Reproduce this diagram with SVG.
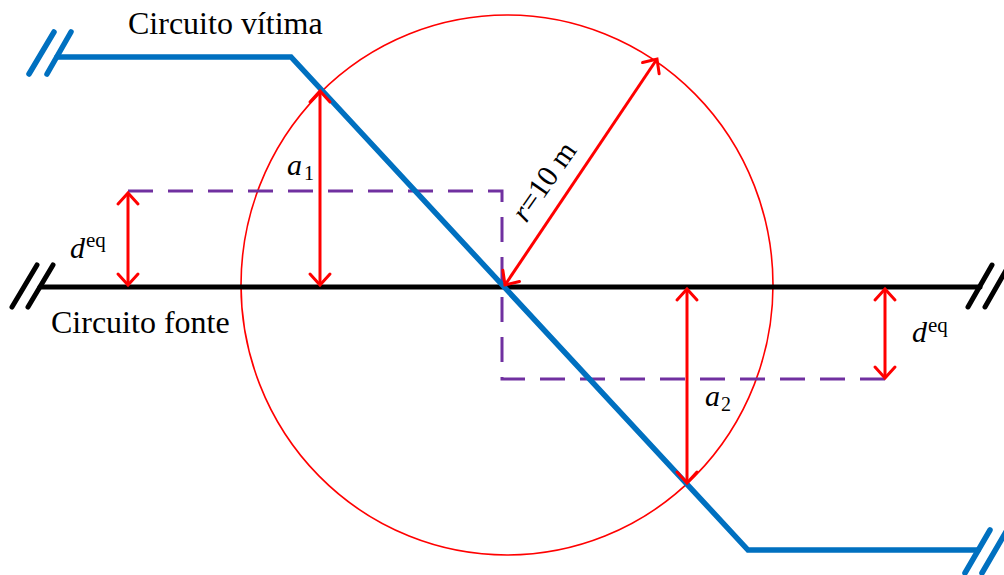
<svg xmlns="http://www.w3.org/2000/svg" width="1004" height="575" viewBox="0 0 1004 575">
<style>
.blk{stroke:#000;stroke-width:5;fill:none;stroke-linecap:round}
.blu{stroke:#0070C0;stroke-width:5.5;fill:none;stroke-linecap:round}
.dash{stroke:#7030A0;stroke-width:3;fill:none;stroke-dasharray:25 15}
.arr{stroke:#FF0000;stroke-width:3;fill:none;marker-start:url(#ah);marker-end:url(#ah)}
.t{font-family:"Liberation Serif","Times New Roman",serif;fill:#000}
.it{font-style:italic}
</style>
<defs>
<marker id="ah" markerUnits="userSpaceOnUse" viewBox="-14 -12 16 24" refX="0" refY="0" markerWidth="16" markerHeight="24" orient="auto-start-reverse" overflow="visible">
<path d="M-11,-10 L0,0 L-11,10" stroke="#FF0000" stroke-width="3" fill="none" stroke-linecap="round" stroke-linejoin="miter"/>
</marker>
</defs>
<rect width="1004" height="575" fill="#fff"/>
<g id="circle">
<ellipse cx="507" cy="285" rx="266" ry="270" fill="none" stroke="#FF0000" stroke-width="1.6"/>
</g>
<g id="source-circuit">
<line class="blk" x1="40" y1="287" x2="980" y2="287"/>
<line class="blk" x1="12" y1="307" x2="37" y2="265"/>
<line class="blk" x1="28" y1="307" x2="53" y2="265"/>
<line class="blk" x1="968" y1="307" x2="992" y2="265"/>
<line class="blk" x1="985" y1="307" x2="1009" y2="265"/>
</g>
<g id="dashed-lines">
<path class="dash" d="M128,191 H502 V379 H887"/>
</g>
<g id="victim-circuit">
<polyline class="blu" points="57,57 291,57 748,550 978,550"/>
<line class="blu" x1="29" y1="74" x2="54" y2="32"/>
<line class="blu" x1="47" y1="74" x2="71" y2="32"/>
<line class="blu" x1="965" y1="573" x2="990" y2="530"/>
<line class="blu" x1="982" y1="573" x2="1007" y2="530"/>
</g>
<g id="connectors">
<line class="arr" x1="128" y1="193" x2="128" y2="285"/>
<line class="arr" x1="320" y1="91" x2="320" y2="285"/>
<line class="arr" x1="505" y1="285" x2="657" y2="59"/>
<line class="arr" x1="687" y1="289" x2="687" y2="483"/>
<line class="arr" x1="885" y1="289" x2="885" y2="378"/>
</g>
<g id="labels">
<text class="t" x="128" y="34" font-size="32">Circuito vítima</text>
<text class="t" x="51" y="333" font-size="32">Circuito fonte</text>
<text class="t" x="70" y="258" font-size="30"><tspan class="it">d</tspan><tspan x="86" y="247" font-size="21">eq</tspan></text>
<text class="t" x="912" y="342" font-size="30"><tspan class="it">d</tspan><tspan x="928" y="332" font-size="21">eq</tspan></text>
<text class="t" x="287" y="175" font-size="30"><tspan class="it">a</tspan><tspan x="304" y="180" font-size="20">1</tspan></text>
<text class="t" x="705" y="406" font-size="30"><tspan class="it">a</tspan><tspan x="721" y="411" font-size="20">2</tspan></text>
<text class="t" font-size="30" text-anchor="middle" transform="translate(552,187) rotate(-55)"><tspan class="it">r</tspan>=10 m</text>
</g>
</svg>
